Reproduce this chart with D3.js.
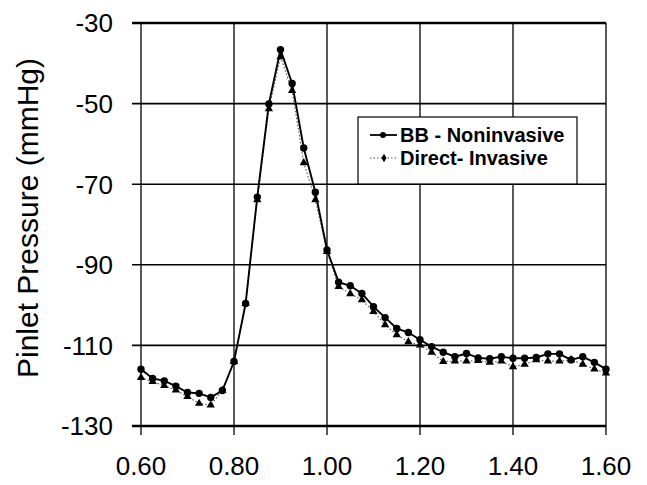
<!DOCTYPE html>
<html><head><meta charset="utf-8">
<script src="https://cdn.jsdelivr.net/npm/d3@7"></script>
<style>body{margin:0;background:#fff}svg{display:block}text{font-family:Arial,"Liberation Sans",sans-serif}</style>
</head><body>
<script>
const xValues = [0.600,0.625,0.650,0.675,0.700,0.725,0.750,0.775,0.800,0.825,0.850,0.875,0.900,0.925,0.950,0.975,1.000,1.025,1.050,1.075,1.100,1.125,1.150,1.175,1.200,1.225,1.250,1.275,1.300,1.325,1.350,1.375,1.400,1.425,1.450,1.475,1.500,1.525,1.550,1.575,1.600];
const bbNoninvasive = [-115.9,-118.2,-118.8,-120.1,-121.7,-121.9,-122.9,-121.2,-114.0,-99.6,-73.2,-50.1,-36.6,-45.0,-61.0,-72.0,-86.3,-94.3,-95.2,-97.1,-100.4,-103.1,-105.8,-106.8,-108.6,-110.3,-111.7,-112.8,-112.0,-113.1,-113.3,-112.8,-113.2,-113.2,-113.0,-112.1,-112.1,-113.6,-112.8,-114.2,-115.9];
const directInvasive = [-118.0,-119.0,-120.0,-121.1,-122.7,-124.4,-124.8,-121.2,-114.0,-99.6,-73.9,-51.3,-38.4,-46.8,-64.7,-73.9,-86.7,-95.4,-97.2,-98.7,-101.6,-104.9,-107.4,-109.1,-109.9,-111.7,-114.0,-113.9,-113.9,-113.8,-114.2,-113.9,-115.3,-114.7,-113.6,-113.9,-113.9,-113.6,-114.7,-115.9,-116.9];
const xTicks = [0.6,0.8,1.0,1.2,1.4,1.6];
const yTicks = [-30,-50,-70,-90,-110,-130];
const seriesNames = ["BB - Noninvasive","Direct- Invasive"];
const yTitle = "Pinlet Pressure (mmHg)";

const W=647,H=485;
const svg=d3.select("body").append("svg").attr("width",W).attr("height",H);
const x=d3.scaleLinear().domain([0.6,1.6]).range([141,606]);
const y=d3.scaleLinear().domain([-130,-30]).range([426,23]);

// grid
const g=svg.append("g");
g.selectAll(".h").data(yTicks).join("line")
 .attr("x1",132).attr("x2",606).attr("y1",d=>y(d)).attr("y2",d=>y(d))
 .attr("stroke","#000").attr("stroke-width",d=>(d===-130||d===-30)?2.5:1.6);
g.selectAll(".v").data(xTicks).join("line")
 .attr("x1",d=>x(d)).attr("x2",d=>x(d)).attr("y1",23).attr("y2",435)
 .attr("stroke","#000").attr("stroke-width",1.3);

// axes labels
svg.selectAll(".yt").data(yTicks).join("text")
 .attr("x",113).attr("y",d=>y(d)).attr("dy","0.36em").attr("text-anchor","end")
 .attr("font-size",26).text(d=>d);
svg.selectAll(".xt").data(xTicks).join("text")
 .attr("x",d=>x(d)).attr("y",475).attr("text-anchor","middle")
 .attr("font-size",26).text(d=>d3.format(".2f")(d));
svg.append("text").attr("transform","translate(38,218) rotate(-90)")
 .attr("text-anchor","middle").attr("font-size",30).text(yTitle);

const line=d3.line().x((d,i)=>x(xValues[i])).y(d=>y(d));
// direct invasive (dotted)
svg.append("path").datum(directInvasive).attr("d",line).attr("fill","none")
 .attr("stroke","#555").attr("stroke-width",1.1).attr("stroke-dasharray","1.5,2");
svg.selectAll(".tri").data(directInvasive).join("path")
 .attr("transform",(d,i)=>`translate(${x(xValues[i])},${y(d)})`)
 .attr("d",d3.symbol(d3.symbolTriangle,30)).attr("fill","#000");
// BB noninvasive (solid)
svg.append("path").datum(bbNoninvasive).attr("d",line).attr("fill","none")
 .attr("stroke","#000").attr("stroke-width",1.9);
svg.selectAll(".cir").data(bbNoninvasive).join("circle")
 .attr("cx",(d,i)=>x(xValues[i])).attr("cy",d=>y(d)).attr("r",3.7).attr("fill","#000");

// legend
const lg=svg.append("g");
lg.append("rect").attr("x",358).attr("y",117).attr("width",219).attr("height",67)
 .attr("fill","#fff").attr("stroke","#000").attr("stroke-width",1.2);
const rows=[135,158];
lg.append("line").attr("x1",370).attr("x2",397).attr("y1",rows[0]).attr("y2",rows[0]).attr("stroke","#000").attr("stroke-width",1.8);
lg.append("circle").attr("cx",383).attr("cy",rows[0]).attr("r",3).attr("fill","#000");
lg.append("line").attr("x1",370).attr("x2",397).attr("y1",rows[1]).attr("y2",rows[1]).attr("stroke","#555").attr("stroke-width",1.1).attr("stroke-dasharray","1.5,2");
lg.append("path").attr("transform",`translate(384,${rows[1]})`).attr("d",d3.symbol(d3.symbolDiamond,22)).attr("fill","#000");
lg.selectAll(".lt").data(seriesNames).join("text")
 .attr("x",400).attr("y",(d,i)=>rows[i]).attr("dy","0.36em")
 .attr("font-size",20).attr("font-weight","bold").text(d=>d);
</script>
</body></html>
